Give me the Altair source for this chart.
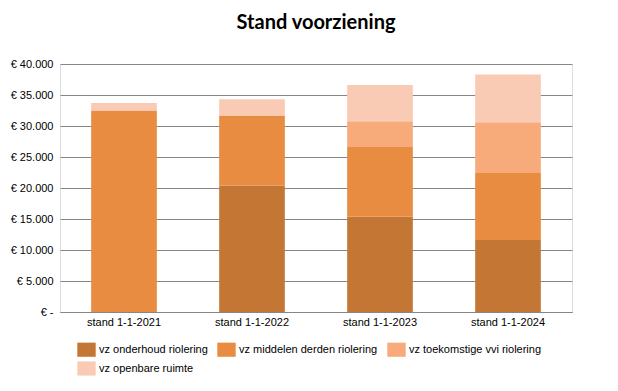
import altair as alt
import pandas as pd

categories = ["stand 1-1-2021", "stand 1-1-2022", "stand 1-1-2023", "stand 1-1-2024"]
series = ["vz onderhoud riolering", "vz middelen derden riolering",
          "vz toekomstige vvi riolering", "vz openbare ruimte"]
onderhoud = [0, 20400, 15400, 11600]
middelen = [32500, 11300, 11200, 10800]
toekomstige = [0, 0, 4150, 8200]
openbare = [1200, 2600, 5850, 7700]
colors = ["#C47634", "#E88C42", "#F7AA7A", "#F9CBB5"]

rows = []
for si, (name, vals) in enumerate(zip(series, [onderhoud, middelen, toekomstige, openbare])):
    for c, v in zip(categories, vals):
        rows.append({"cat": c, "serie": name, "value": v, "ord": si})
df = pd.DataFrame(rows)

font = "Liberation Sans"

chart = alt.Chart(df).mark_bar(width={"band": 0.57}).encode(
    x=alt.X("cat:N", sort=categories, title=None,
            axis=alt.Axis(labelAngle=0, ticks=False, domainColor="#868686",
                          labelFont=font, labelFontSize=11, labelColor="#000000",
                          labelPadding=4)),
    y=alt.Y("value:Q", title=None, stack="zero",
            scale=alt.Scale(domain=[0, 40000], nice=False),
            axis=alt.Axis(values=list(range(0, 40001, 5000)), domain=False, ticks=False,
                          gridColor="#868686", gridWidth=1,
                          labelExpr="datum.value == 0 ? '€ -' : '€ ' + replace(format(datum.value, ','), ',', '.')",
                          labelFont=font, labelFontSize=11, labelColor="#000000",
                          labelPadding=7)),
    color=alt.Color("serie:N", sort=series,
                    scale=alt.Scale(domain=series, range=colors),
                    legend=alt.Legend(title=None, orient="none", legendX=19, legendY=278,
                                      direction="horizontal", columns=3,
                                      symbolType="M-1.3,-1H1.3V1H-1.3Z", symbolSize=200,
                                      symbolStrokeWidth=0, labelFont=font, labelFontSize=11,
                                      labelColor="#000000", labelOffset=5, columnPadding=9,
                                      rowPadding=4)),
    order=alt.Order("ord:Q", sort="ascending"),
).properties(
    width=512, height=248,
    padding={"left": 52, "top": 56, "right": 30, "bottom": 76},
    autosize=alt.AutoSizeParams(type="none"),
    title=alt.TitleParams("Stand voorziening", font="Lato", fontSize=20, fontWeight="bold",
                          color="#000000", anchor="middle", offset=25),
).configure_view(stroke=None).configure(background="#ffffff")

chart.save("out.html", embed_options={"renderer": "svg", "actions": False})
